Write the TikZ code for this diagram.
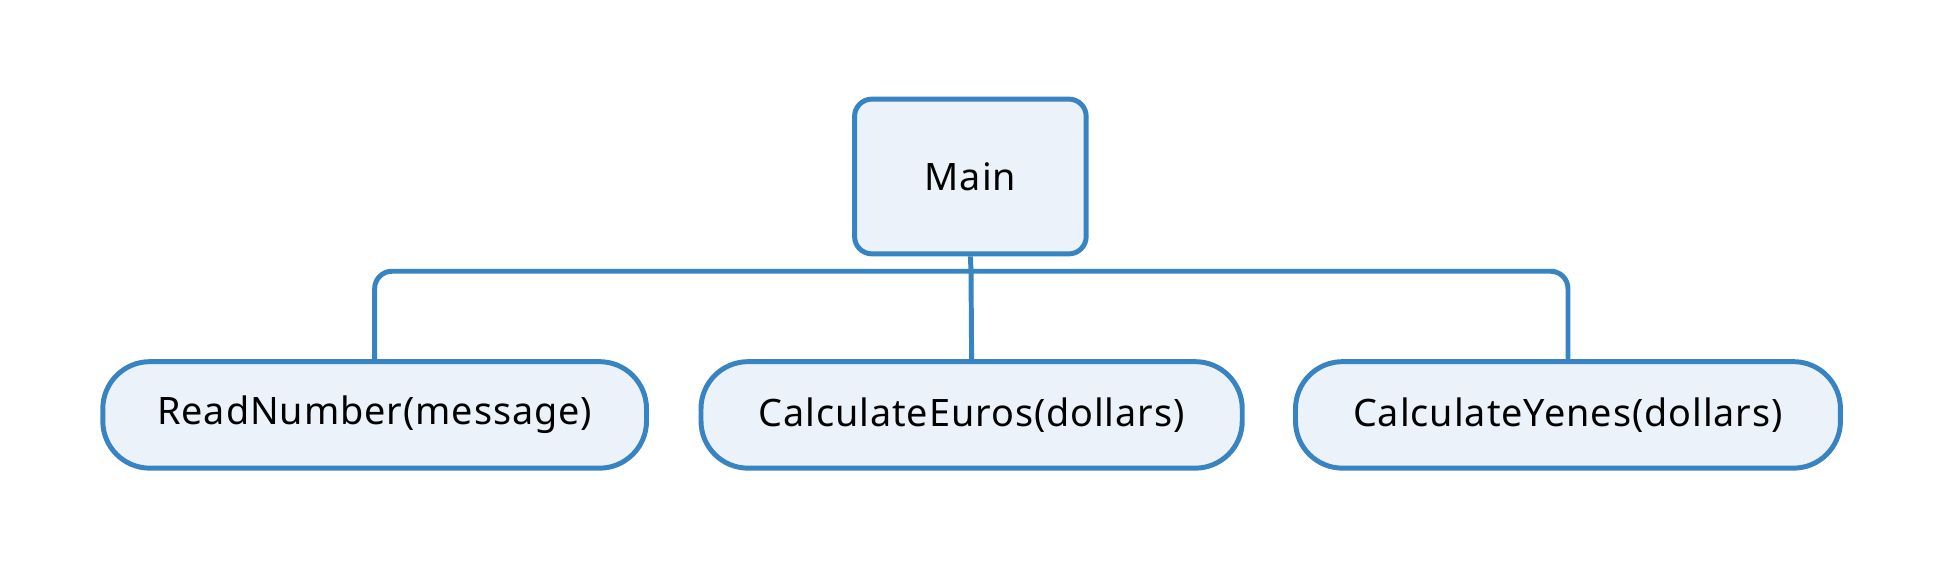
\documentclass[tikz,border=0pt]{standalone}
\usepackage{fontspec}
\setmainfont{Noto Sans}[LetterSpace=2.5]
\definecolor{edge}{RGB}{56,132,194}
\definecolor{boxfill}{RGB}{235,242,249}
\begin{document}
\begin{tikzpicture}[x=1pt,y=-1pt,
  mainbox/.style={draw=edge,fill=boxfill,line width=4pt,rounded corners=14pt,minimum width=187pt,minimum height=125pt,inner sep=0pt,font=\fontsize{30.5}{36}\selectfont},
  fnbox/.style={draw=edge,fill=boxfill,line width=4pt,rounded corners=38pt,minimum height=86pt,inner sep=0pt,font=\fontsize{30.5}{36}\selectfont},
  conn/.style={draw=edge,line width=4pt}]
\useasboundingbox (0,0) rectangle (1568,460);
\node[mainbox] (main) at (783.5,142.5) {Main};
\node[fnbox,minimum width=439pt] (read) at (302.5,335) {ReadNumber(message)};
\node[fnbox,minimum width=437pt] (euros) at (784.5,335) {CalculateEuros(dollars)};
\node[fnbox,minimum width=440pt] (yenes) at (1266,335) {CalculateYenes(dollars)};
\coordinate (j) at (784,219);
\draw[conn] (main.south) -- (j);
\draw[conn,rounded corners=14pt] (read.north) |- (j) -| (yenes.north);
\draw[conn] (j) -- (euros.north);
\end{tikzpicture}
\end{document}
